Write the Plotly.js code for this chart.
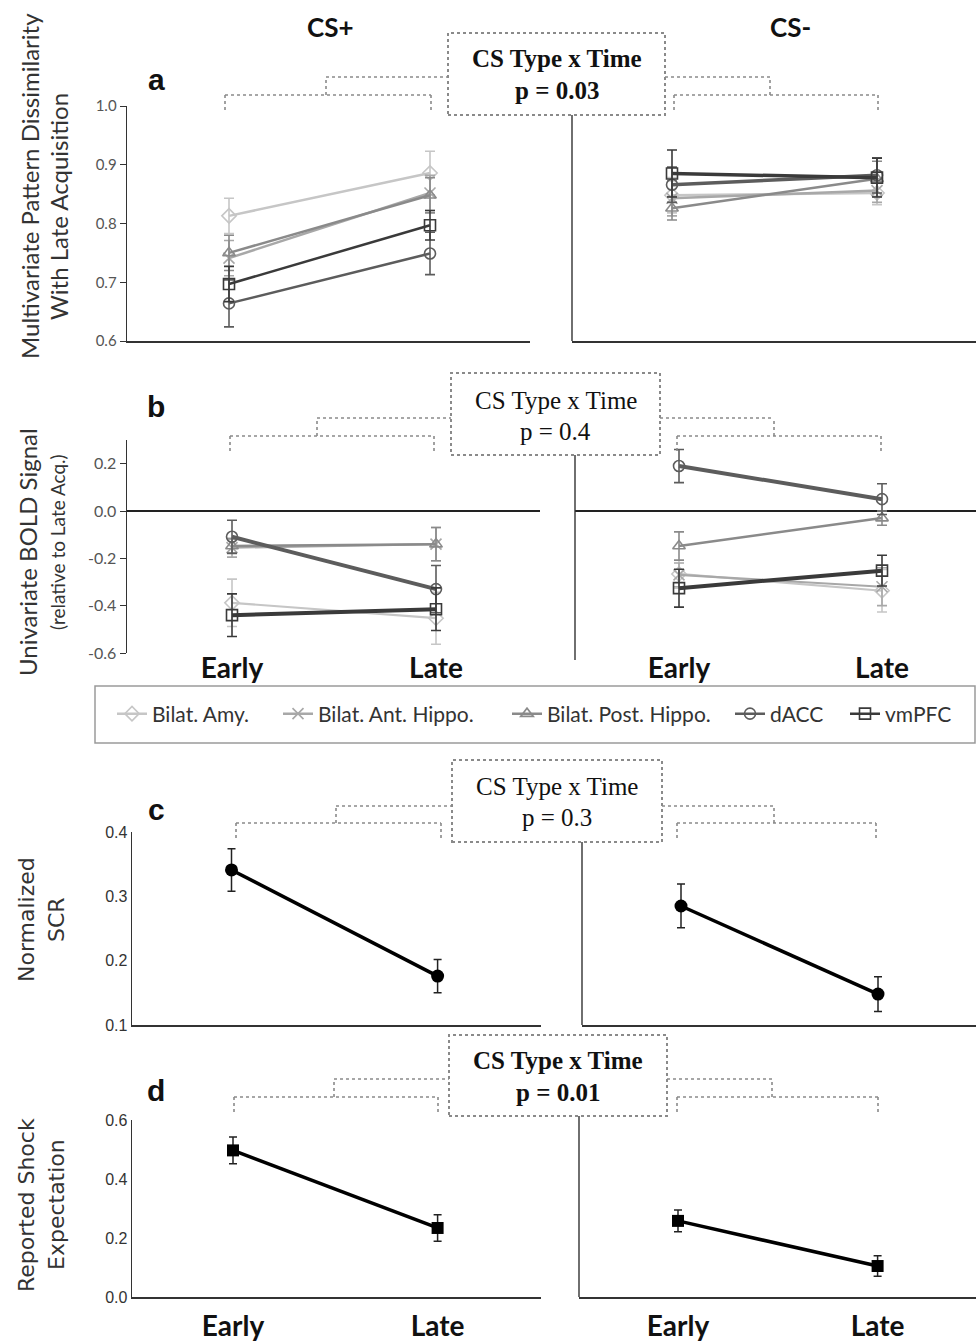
<!DOCTYPE html>
<html>
<head>
<meta charset="utf-8">
<script src="https://cdn.plot.ly/plotly-3.0.1.min.js"></script>
<style>html,body{margin:0;padding:0;background:#fff;}#chart{width:976px;height:1342px;}</style>
</head>
<body>
<div id="chart"></div>
<script>
// ---------------- DATA ----------------
const regions = ['Bilat. Amy.', 'Bilat. Ant. Hippo.', 'Bilat. Post. Hippo.', 'dACC', 'vmPFC'];
const timePoints = ['Early', 'Late'];
const csTypes = ['CS+', 'CS-'];
const panelLetters = ['a', 'b', 'c', 'd'];
const interactionP = ['0.03', '0.4', '0.3', '0.01'];
const boldTickVals = [-0.6, -0.4, -0.2, 0, 0.2];
const boldTickText = ['-0.6', '-0.4', '-0.2', '0.0', '0.2'];

// (a) multivariate pattern dissimilarity, rows = regions, cols = Early/Late
const mvpaCSp    = [[0.813, 0.886], [0.741, 0.852], [0.750, 0.848], [0.664, 0.749], [0.697, 0.797]];
const mvpaCSpErr = [[0.030, 0.037], [0.030, 0.030], [0.030, 0.030], [0.040, 0.036], [0.030, 0.025]];
const mvpaCSm    = [[0.848, 0.852], [0.843, 0.856], [0.826, 0.876], [0.866, 0.882], [0.885, 0.878]];
const mvpaCSmErr = [[0.030, 0.020], [0.030, 0.020], [0.020, 0.030], [0.030, 0.030], [0.040, 0.033]];

// (b) univariate BOLD
const boldCSp    = [[-0.388, -0.453], [-0.155, -0.140], [-0.148, -0.140], [-0.109, -0.330], [-0.440, -0.415]];
const boldCSpErr = [[0.10, 0.11], [0.04, 0.07], [0.03, 0.07], [0.07, 0.10], [0.09, 0.09]];
const boldCSm    = [[-0.266, -0.337], [-0.270, -0.320], [-0.148, -0.030], [0.190, 0.050], [-0.326, -0.252]];
const boldCSmErr = [[0.06, 0.09], [0.05, 0.08], [0.06, 0.03], [0.07, 0.065], [0.08, 0.065]];

// (c) normalized SCR
const scrCSp = [0.341, 0.176];
const scrCSpErr = [0.033, 0.026];
const scrCSm = [0.285, 0.148];
const scrCSmErr = [0.034, 0.027];

// (d) reported shock expectation
const shockCSp = [0.497, 0.234];
const shockCSpErr = [0.045, 0.045];
const shockCSm = [0.258, 0.105];
const shockCSmErr = [0.037, 0.035];

// ---------------- STYLE / LAYOUT ----------------
const W = 976, H = 1342;
const PX = x => x / W;
const PY = y => 1 - y / H;
const regionColors = ['#c6c6c6', '#a8a8a8', '#8a8a8a', '#5c5c5c', '#3a3a3a'];
const regionSymbols = ['diamond-open', 'x-thin-open', 'triangle-up-open', 'circle-open', 'square-open'];
const legendIds = ['legend', 'legend2', 'legend3', 'legend4', 'legend5'];
const legendTextStart = [152, 318, 547, 770, 885];
const SANS = 'Lato, "Open Sans", sans-serif';
const SERIF = '"Liberation Serif", "Times New Roman", serif';
const WIDE = '"DejaVu Sans", Verdana, sans-serif';
const NARROW = '"Liberation Sans Narrow", "Liberation Sans", Arial, sans-serif';

const traces = [];
function regionTraces(vals, errs, xa, ya, showLegend, lineW) {
  vals.forEach((v, i) => {
    traces.push({
      type: 'scatter', mode: 'lines+markers', x: timePoints, y: v,
      xaxis: xa, yaxis: ya, name: regions[i], showlegend: showLegend, legend: legendIds[i],
      line: {color: regionColors[i], width: lineW[i]},
      marker: {symbol: regionSymbols[i], size: 11, color: regionColors[i], line: {color: regionColors[i], width: 1.6}},
      error_y: {type: 'data', array: errs[i], color: regionColors[i], thickness: 1.6, width: 5}
    });
  });
}
regionTraces(mvpaCSp, mvpaCSpErr, 'x', 'y', true, [2.5, 2.5, 2.5, 2.5, 2.5]);
regionTraces(mvpaCSm, mvpaCSmErr, 'x2', 'y2', false, [2.5, 2.5, 2.5, 3.5, 3.5]);
regionTraces(boldCSp, boldCSpErr, 'x3', 'y3', false, [2.2, 2.2, 2.5, 4, 4]);
regionTraces(boldCSm, boldCSmErr, 'x4', 'y4', false, [2.2, 2.2, 2.5, 4, 4]);

function singleTrace(v, e, xa, ya, symbol, size) {
  traces.push({
    type: 'scatter', mode: 'lines+markers', x: timePoints, y: v, xaxis: xa, yaxis: ya, showlegend: false,
    line: {color: '#000', width: 3.5},
    marker: {symbol: symbol, size: size, color: '#000'},
    error_y: {type: 'data', array: e, color: '#222', thickness: 1.5, width: 4}
  });
}
singleTrace(scrCSp, scrCSpErr, 'x5', 'y5', 'circle', 13);
singleTrace(scrCSm, scrCSmErr, 'x6', 'y6', 'circle', 13);
singleTrace(shockCSp, shockCSpErr, 'x7', 'y7', 'square', 12);
singleTrace(shockCSm, shockCSmErr, 'x8', 'y8', 'square', 12);

// axis builders: l/r = domain edges in px, e/la = Early/Late centres in px
function xAx(anchor, l, r, e, la, o) {
  const u = la - e;
  return Object.assign({
    anchor: anchor, domain: [PX(l), PX(r)], range: [-(e - l) / u, 1 + (r - la) / u], type: 'category',
    showgrid: false, zeroline: false, showline: true, linecolor: '#333', linewidth: 1.6,
    ticks: '', showticklabels: false, fixedrange: true
  }, o || {});
}
function yAx(anchor, top, bottom, range, o) {
  return Object.assign({
    anchor: anchor, domain: [PY(bottom), PY(top)], range: range, showgrid: false, zeroline: false,
    showline: false, ticks: '', showticklabels: false, fixedrange: true
  }, o || {});
}
const yTicksA = {showline: true, linecolor: '#333', linewidth: 1.4, ticks: 'outside', ticklen: 6, tickcolor: '#333',
  showticklabels: true, tickfont: {family: SANS, size: 15, color: '#555'}, tickformat: '.1f'};
const labelsB = {showline: false, showticklabels: true, ticklabelstandoff: -4, tickfont: {family: SANS, size: 28, color: '#111', weight: 'bold'}};
const labelsD = {showticklabels: true, ticklabelstandoff: 4, tickfont: {family: SANS, size: 28, color: '#111', weight: 'bold'}};

const layout = {
  width: W, height: H, margin: {l: 0, r: 0, t: 0, b: 0},
  paper_bgcolor: '#fff', plot_bgcolor: 'rgba(0,0,0,0)', font: {family: SANS},
  showlegend: true,
  xaxis: xAx('y', 127, 530, 229, 430),
  yaxis: yAx('x', 106, 341, [0.6, 1.0], Object.assign({}, yTicksA, {dtick: 0.1, tick0: 0.6})),
  xaxis2: xAx('y2', 572, 976, 672, 877),
  yaxis2: yAx('x2', 106, 341, [0.6, 1.0]),
  xaxis3: xAx('y3', 127, 540, 232, 436, labelsB),
  yaxis3: yAx('x3', 440, 653, [-0.6, 0.3], Object.assign({}, yTicksA, {tickvals: boldTickVals, ticktext: boldTickText,
    tickfont: {family: SANS, size: 16, color: '#555'}, zeroline: true, zerolinecolor: '#222', zerolinewidth: 1.6})),
  xaxis4: xAx('y4', 575, 976, 679, 882, labelsB),
  yaxis4: yAx('x4', 440, 653, [-0.6, 0.3], {zeroline: true, zerolinecolor: '#222', zerolinewidth: 1.6}),
  xaxis5: xAx('y5', 132, 541, 231.5, 437.6),
  yaxis5: yAx('x5', 832, 1025, [0.1, 0.4], {showline: true, linecolor: '#333', linewidth: 1.4, showticklabels: true,
    tickfont: {family: NARROW, size: 16, color: '#333'}, tickformat: '.1f', dtick: 0.1, tick0: 0.1}),
  xaxis6: xAx('y6', 582, 976, 681, 878),
  yaxis6: yAx('x6', 832, 1025, [0.1, 0.4]),
  xaxis7: xAx('y7', 132, 541, 233, 437.6, labelsD),
  yaxis7: yAx('x7', 1120, 1297, [0, 0.6], {showline: true, linecolor: '#333', linewidth: 1.4, showticklabels: true,
    tickfont: {family: NARROW, size: 16, color: '#333'}, tickformat: '.1f', dtick: 0.2, tick0: 0}),
  xaxis8: xAx('y8', 579, 976, 678, 877.6, labelsD),
  yaxis8: yAx('x8', 1120, 1297, [0, 0.6]),
  shapes: [], annotations: []
};
legendIds.forEach((id, i) => {
  layout[id] = {orientation: 'h', x: PX(legendTextStart[i] - 40), y: PY(714), xanchor: 'left', yanchor: 'middle',
    font: {family: SANS, size: 21, color: '#333'}, bgcolor: 'rgba(0,0,0,0)', borderwidth: 0, itemwidth: 30};
});

const dotted = {color: '#8a8a8a', width: 1.6, dash: 'dot'};
function seg(x0, y0, x1, y1, line) {
  layout.shapes.push({type: 'line', xref: 'paper', yref: 'paper', x0: PX(x0), y0: PY(y0), x1: PX(x1), y1: PY(y1), line: line});
}
function txt(x, y, text, font, o) {
  layout.annotations.push(Object.assign({xref: 'paper', yref: 'paper', x: PX(x), y: PY(y), text: text,
    showarrow: false, font: font, xanchor: 'center', yanchor: 'middle'}, o || {}));
}
// interaction box + brackets + connector line
function interaction(p, idx, bold) {
  const [bL, bR, bT, bB] = p.box;
  layout.shapes.push({type: 'rect', xref: 'paper', yref: 'paper', x0: PX(bL), x1: PX(bR), y0: PY(bB), y1: PY(bT),
    line: {color: '#8a8a8a', width: 2, dash: 'dot'}, fillcolor: 'rgba(0,0,0,0)'});
  seg(p.lL, p.low, p.lR, p.low, dotted); seg(p.lL, p.low, p.lL, p.drop, dotted); seg(p.lR, p.low, p.lR, p.drop, dotted);
  seg(p.lS, p.low, p.lS, p.up, dotted); seg(p.lS, p.up, bL, p.up, dotted);
  seg(p.rL, p.low, p.rR, p.low, dotted); seg(p.rL, p.low, p.rL, p.drop, dotted); seg(p.rR, p.low, p.rR, p.drop, dotted);
  seg(p.rS, p.low, p.rS, p.up, dotted); seg(bR, p.up, p.rS, p.up, dotted);
  seg(p.vx, bB, p.vx, p.vBottom, {color: '#333', width: 1.4});
  const f = {family: SERIF, size: 25, color: '#111', weight: bold ? 'bold' : 'normal'};
  txt((bL + bR) / 2, p.t1, 'CS Type x Time', f);
  txt((bL + bR) / 2, p.t2, 'p = ' + interactionP[idx], f);
}
interaction({box: [448, 665, 33, 115], up: 77, low: 95, drop: 112, lL: 225, lR: 431, lS: 326, rL: 674, rR: 878, rS: 770,
  vx: 572, vBottom: 341, t1: 59, t2: 91}, 0, true);
interaction({box: [451, 660, 373, 455], up: 418, low: 436, drop: 452, lL: 230, lR: 434, lS: 317, rL: 677, rR: 881, rS: 774,
  vx: 575, vBottom: 660, t1: 400, t2: 431}, 1, false);
interaction({box: [452, 662, 760, 842], up: 806, low: 823, drop: 841, lL: 236, lR: 441, lS: 336, rL: 677, rR: 876, rS: 774,
  vx: 582, vBottom: 1025, t1: 786, t2: 818}, 2, false);
interaction({box: [449, 667, 1035, 1116], up: 1079, low: 1097, drop: 1113, lL: 234, lR: 438, lS: 334, rL: 677, rR: 878, rS: 772,
  vx: 579, vBottom: 1297, t1: 1060, t2: 1092}, 3, true);

// legend frame
layout.shapes.push({type: 'rect', xref: 'paper', yref: 'paper', x0: PX(95), x1: PX(975), y0: PY(743), y1: PY(686),
  line: {color: '#9a9a9a', width: 1.5}, fillcolor: 'rgba(0,0,0,0)'});

// column titles
const colFont = {family: SANS, size: 26, color: '#111', weight: 'bold'};
txt(330, 27, csTypes[0], colFont);
txt(790, 27, csTypes[1], colFont);
// panel letters
const letterFont = {family: '"Liberation Sans", Arial, sans-serif', size: 30, color: '#111', weight: 'bold'};
txt(156, 80, panelLetters[0], letterFont);
txt(156, 406, panelLetters[1], letterFont);
txt(156, 810, panelLetters[2], letterFont);
txt(156, 1090, panelLetters[3], letterFont);
// y-axis titles
const yt = {family: SANS, size: 24, color: '#333'};
txt(29, 186, 'Multivariate Pattern Dissimilarity', yt, {textangle: -90});
txt(59, 207, 'With Late Acquisition', yt, {textangle: -90});
txt(27, 552, 'Univariate BOLD Signal', Object.assign({}, yt, {size: 24}), {textangle: -90});
txt(57, 542, '(relative to Late Acq.)', Object.assign({}, yt, {size: 19}), {textangle: -90});
const yw = {family: WIDE, size: 22, color: '#333'};
txt(26, 920, 'Normalized', yw, {textangle: -90});
txt(56, 920, 'SCR', yw, {textangle: -90});
txt(26, 1205, 'Reported Shock', yw, {textangle: -90});
txt(56, 1205, 'Expectation', yw, {textangle: -90});

Plotly.newPlot('chart', traces, layout, {displayModeBar: false, staticPlot: true});
</script>
</body>
</html>
